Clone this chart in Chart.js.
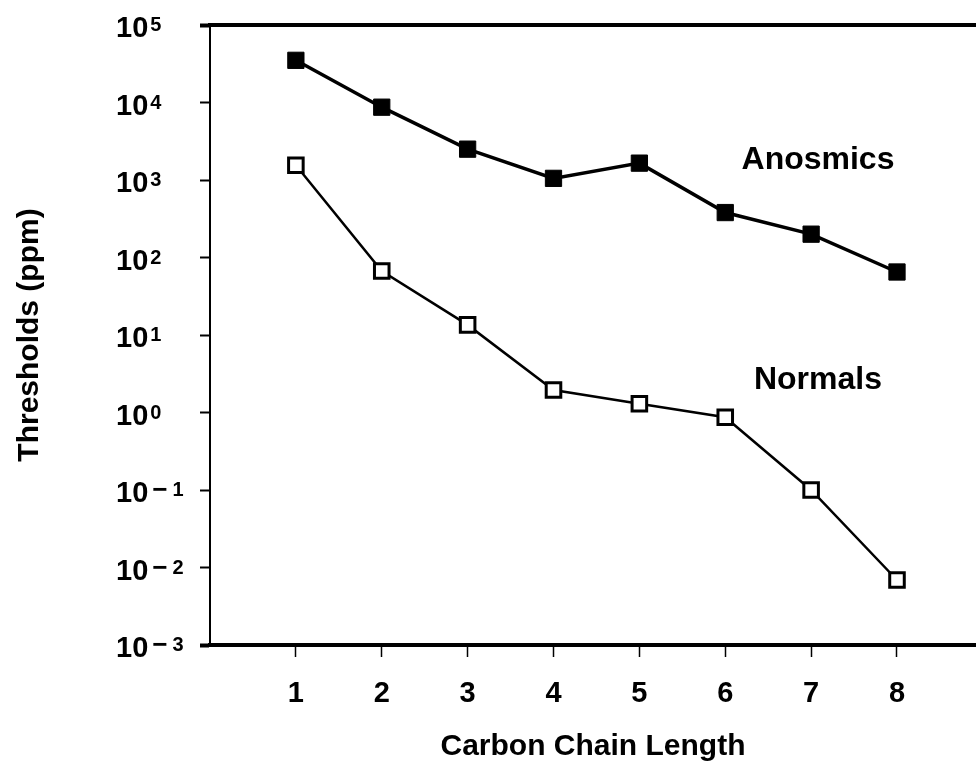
<!DOCTYPE html>
<html>
<head>
<meta charset="utf-8">
<script src="https://cdn.jsdelivr.net/npm/chart.js@4.4.1/dist/chart.umd.min.js"></script>
<style>
  html, body { margin: 0; padding: 0; background: #fff; }
</style>
</head>
<body>
<canvas id="thresholdChart" width="976" height="781"></canvas>
<script>
// values
const chainLength = [1, 2, 3, 4, 5, 6, 7, 8]
const anosmics = [35000, 8700, 2500, 1050, 1650, 380, 200, 65]
const normals = [1550, 67, 13.5, 1.95, 1.3, 0.87, 0.1, 0.0069]
const yTicks = [1e-3, 1e-2, 1e-1, 1, 10, 100, 1e3, 1e4, 1e5]
const seriesNames = ['Anosmics', 'Normals']
// where the series names sit, in data units
const nameAtX = [7.08, 7.08]
const nameAtY = [1800, 2.6]

const family = '"Liberation Sans", Arial, Helvetica, sans-serif'
Chart.defaults.font.family = family
Chart.defaults.color = '#000'

function points(ys) {
  return chainLength.map((x, i) => ({ x: x, y: ys[i] }))
}

// draws the 10^n labels and the series names
const labelsPlugin = {
  id: 'labelsPlugin',
  afterDraw(chart) {
    const ctx = chart.ctx
    const x = chart.scales.x
    const y = chart.scales.y
    ctx.save()
    ctx.fillStyle = '#000'
    ctx.textAlign = 'left'
    ctx.textBaseline = 'alphabetic'
    for (const v of yTicks) {
      const py = y.getPixelForValue(v)
      const e = Math.round(Math.log10(v))
      ctx.font = 'bold 29px ' + family
      ctx.fillText('10', 116, py + 12)
      let px = 116 + ctx.measureText('10').width + 2
      if (e < 0) {
        ctx.font = 'bold 26px ' + family
        ctx.fillText('\u2212', px + 2, py + 8)
        px += ctx.measureText('\u2212').width + 7
      }
      ctx.font = 'bold 20px ' + family
      ctx.fillText(String(Math.abs(e)), px, py + 6)
    }
    ctx.font = 'bold 32px ' + family
    ctx.textAlign = 'center'
    ctx.textBaseline = 'middle'
    seriesNames.forEach((name, i) => {
      ctx.fillText(name, x.getPixelForValue(nameAtX[i]), y.getPixelForValue(nameAtY[i]))
    })
    ctx.restore()
  }
}

const ctx = document.getElementById('thresholdChart').getContext('2d')
const thresholdChart = new Chart(ctx, {
  type: 'line',
  data: {
    datasets: [{
      label: seriesNames[0],
      data: points(anosmics),
      borderColor: '#000',
      borderWidth: 3.5,
      pointStyle: 'rect',
      pointRadius: 11.5,
      pointBackgroundColor: '#000',
      pointBorderColor: '#000',
      pointBorderWidth: 1,
      tension: 0
    }, {
      label: seriesNames[1],
      data: points(normals),
      borderColor: '#000',
      borderWidth: 2.5,
      pointStyle: 'rect',
      pointRadius: 10.3,
      pointBackgroundColor: '#fff',
      pointBorderColor: '#000',
      pointBorderWidth: 3,
      tension: 0
    }]
  },
  options: {
    responsive: false,
    animation: false,
    devicePixelRatio: 1,
    layout: { autoPadding: false, padding: { top: 25, right: 0, left: 0, bottom: 0 } },
    plugins: {
      legend: { display: false },
      tooltip: { enabled: false }
    },
    scales: {
      x: {
        type: 'linear',
        position: 'bottom',
        min: 0,
        max: 8.92,
        afterBuildTicks: s => { s.ticks = chainLength.map(v => ({ value: v })) },
        afterFit: s => { s.height = 136; s.paddingLeft = 0; s.paddingRight = 0 },
        ticks: {
          font: { size: 29, weight: 'bold' },
          color: '#000',
          padding: 20,
          maxRotation: 0,
          autoSkip: false
        },
        grid: {
          drawOnChartArea: false,
          drawTicks: true,
          tickLength: 12,
          tickWidth: 1.5,
          tickColor: '#000'
        },
        border: { display: true, color: '#000', width: 4 },
        title: {
          display: true,
          text: 'Carbon Chain Length',
          font: { size: 30, weight: 'bold' },
          color: '#000',
          padding: { top: 0, bottom: 16 }
        }
      },
      xTop: {
        type: 'linear',
        position: 'top',
        min: 0,
        max: 1,
        afterFit: s => { s.height = 0; s.paddingLeft = 0; s.paddingRight = 0 },
        ticks: { display: false },
        grid: { drawOnChartArea: false, drawTicks: false },
        border: { display: true, color: '#000', width: 4 }
      },
      y: {
        type: 'logarithmic',
        position: 'left',
        min: 1e-3,
        max: 1e5,
        afterBuildTicks: s => { s.ticks = yTicks.map(v => ({ value: v })) },
        afterFit: s => { s.width = 210 },
        ticks: { callback: () => '' },
        grid: {
          drawOnChartArea: false,
          drawTicks: true,
          tickLength: 10,
          tickColor: '#000',
          tickWidth: c => (c.tick && (c.tick.value === 1e5 || c.tick.value === 1e-3)) ? 4 : 2
        },
        border: { display: true, color: '#000', width: 2 },
        title: {
          display: true,
          text: 'Thresholds (ppm)',
          font: { size: 30, weight: 'bold' },
          color: '#000',
          padding: { top: 12, bottom: 0 }
        }
      }
    }
  },
  plugins: [labelsPlugin]
})
</script>
</body>
</html>
